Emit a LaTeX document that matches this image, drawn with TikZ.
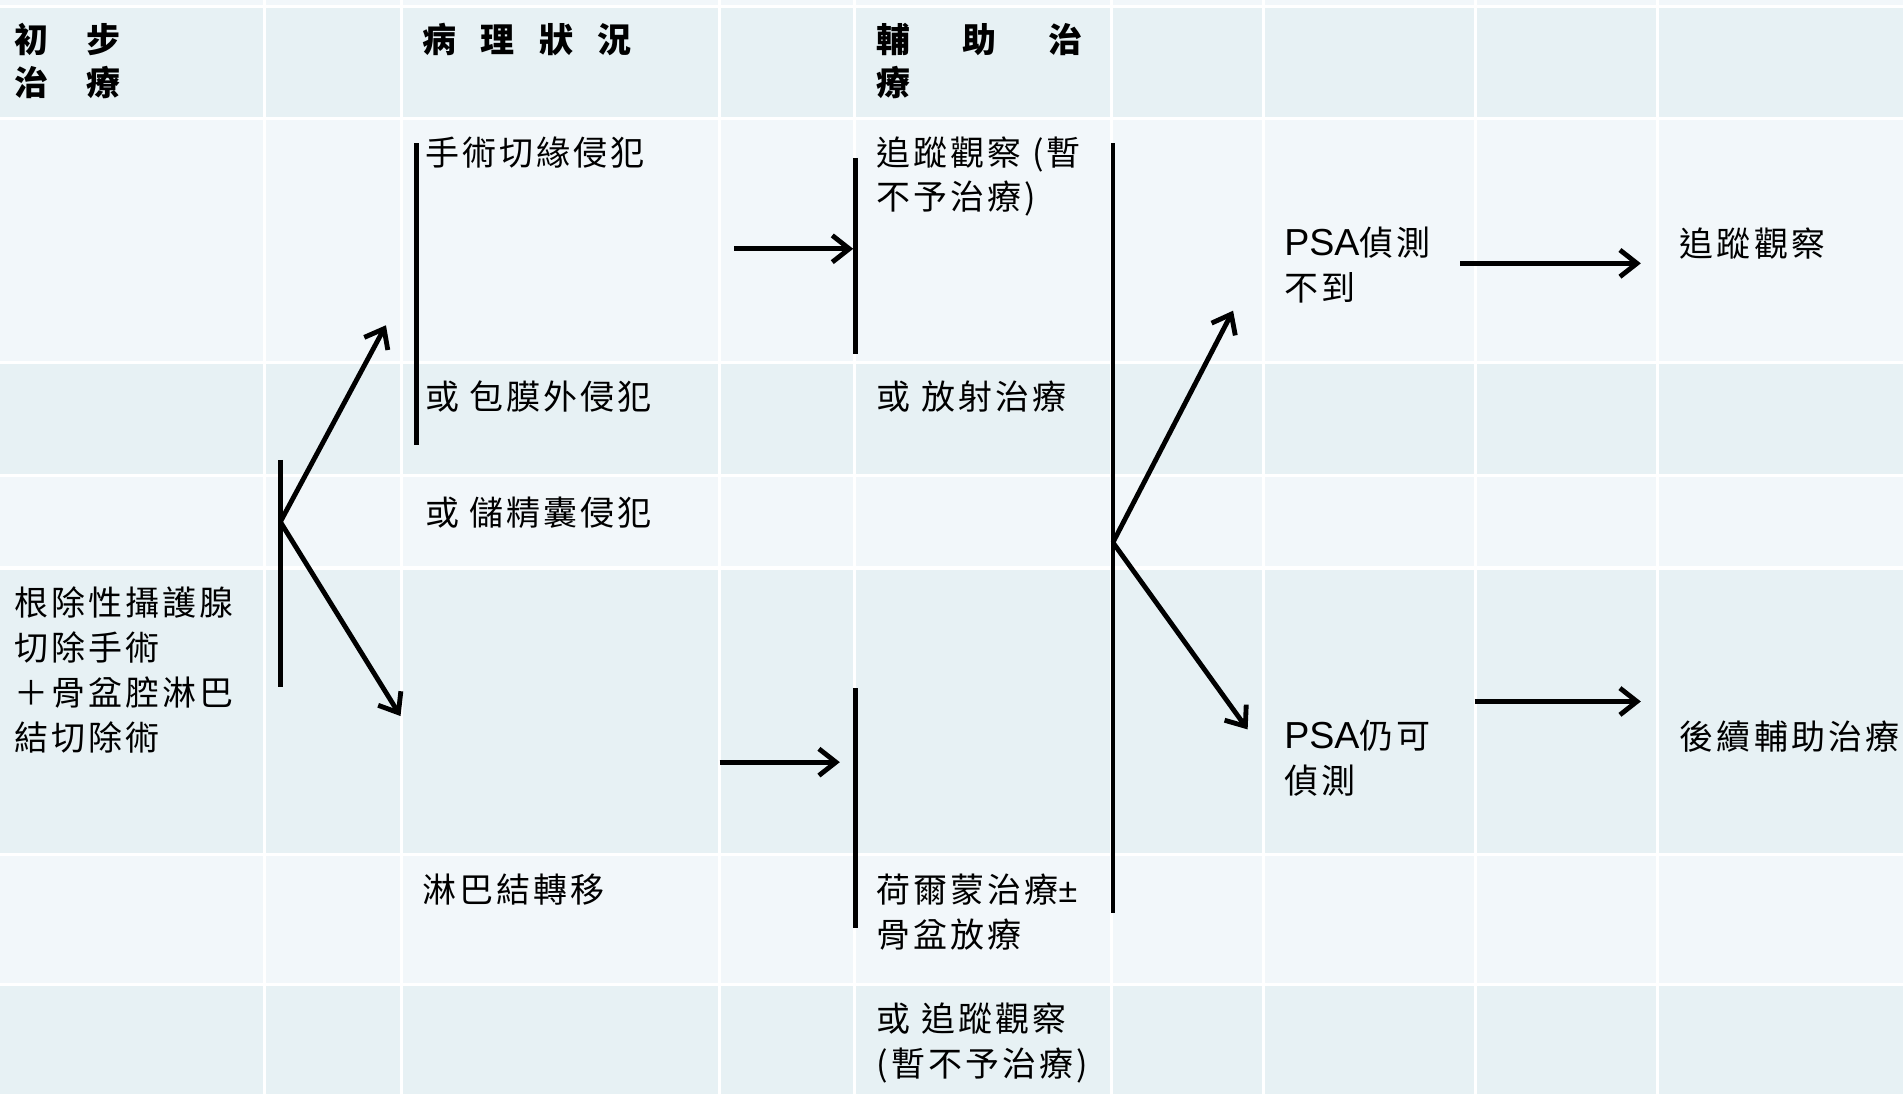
\documentclass[tikz,border=0pt]{standalone}
\usepackage{fontspec}
\setmainfont{Noto Sans CJK TC}[LetterSpace=9]
\newfontfamily\psaf{Liberation Sans}
\usetikzlibrary{arrows.meta}
\definecolor{rowD}{RGB}{231,241,244}
\definecolor{rowL}{RGB}{242,247,250}
\tikzset{
 txt/.style={anchor=base west, inner sep=0pt, align=left, font=\fontsize{28}{37}\selectfont},
 hdr/.style={anchor=base west, inner sep=0pt, align=left, font=\fontsize{28}{35}\selectfont\bfseries},
 bar/.style={line width=4pt},
 arr/.style={line width=4pt, -{Straight Barb[length=14pt,width=22pt]}},
 grid/.style={white, line width=2.5pt},
}
\begin{document}
\begin{tikzpicture}[x=1pt,y=-1pt]
\useasboundingbox (0,0) rectangle (1568,901);
% rows
\fill[white] (0,0) rectangle (1568,901);
\fill[rowL] (0,0) rectangle (1568,5.5);
\fill[rowD] (0,5.5) rectangle (1568,98);
\fill[rowL] (0,98) rectangle (1568,299);
\fill[rowD] (0,299) rectangle (1568,392);
\fill[rowL] (0,392) rectangle (1568,468);
\fill[rowD] (0,468) rectangle (1568,704);
\fill[rowL] (0,704) rectangle (1568,811);
\fill[rowD] (0,811) rectangle (1568,901);
\foreach \y in {5.5,98,299,392,468,704,811} \draw[grid] (0,\y) -- (1568,\y);
\foreach \x in {218,331,593,704,916,1041,1216,1366} \draw[grid] (\x,0) -- (\x,901);
% headers (multi-line nodes: base anchor = last line's baseline)
\node[hdr] (h1) at (12,78.6) {初\hspace{31pt}步\\治\hspace{31pt}療};
\node[hdr] (h2) at (348,43.6) {病\hspace{20pt}理\hspace{20pt}狀\hspace{20pt}況};
\node[hdr] (h3) at (722,78.6) {輔\hspace{43pt}助\hspace{43pt}治\\療};
% column 0
\node[txt] (a) at (12,618) {根除性攝護腺\\切除手術\\＋骨盆腔淋巴\\結切除術};
% column 2
\node[txt] (p1) at (350,136.6) {手術切緣侵犯};
\node[txt] (p2) at (350,337.6) {或 包膜外侵犯};
\node[txt] (p3) at (350,432.6) {或 儲精囊侵犯};
\node[txt] (p4) at (348,743.6) {淋巴結轉移};
% column 4
\node[txt] (t1) at (722,173) {追蹤觀察 (暫\\不予治療)};
\node[txt] (t2) at (722,337.6) {或 放射治療};
\node[txt] (t3) at (722,780.6) {荷爾蒙治療{\psaf ±}\\骨盆放療};
\node[txt] (t4) at (722,886.6) {或 追蹤觀察\\(暫不予治療)};
% column 6
\node[txt] (s1) at (1058,247.6) {{\psaf\fontsize{31}{37}\selectfont PSA}偵測\\不到};
\node[txt] (s2) at (1058,653.6) {{\psaf\fontsize{31}{37}\selectfont PSA}仍可\\偵測};
% column 8
\node[txt] (f1) at (1384,211.6) {追蹤觀察};
\node[txt] (f2) at (1384,617.6) {後續輔助治療};
% bars
\coordinate (b1t) at (231,379); \coordinate (b1b) at (231,566); \coordinate (v1) at (231,430);
\coordinate (b2t) at (343,118); \coordinate (b2b) at (343,367);
\coordinate (b3t) at (705,130); \coordinate (b3b) at (705,292);
\coordinate (b4t) at (705,567); \coordinate (b4b) at (705,765);
\coordinate (b5t) at (917,118); \coordinate (b5b) at (917,752); \coordinate (v5) at (917,447);
\draw[bar] (b1t) -- (b1b);
\draw[bar] (b2t) -- (b2b);
\draw[bar] (b3t) -- (b3b);
\draw[bar] (b4t) -- (b4b);
\draw[bar] (b5t) -- (b5b);
% arrows
\coordinate (e1) at (318,268); \coordinate (e2) at (330,590);
\coordinate (e3s) at (605,205); \coordinate (e3) at (703,205);
\coordinate (e4s) at (593,628); \coordinate (e4) at (692,628);
\coordinate (e5) at (1016,256); \coordinate (e6) at (1028,601);
\coordinate (e7s) at (1203,217); \coordinate (e7) at (1352,217);
\coordinate (e8s) at (1215,578); \coordinate (e8) at (1352,578);
\draw[arr] (v1) -- (e1);
\draw[arr] (v1) -- (e2);
\draw[arr] (e3s) -- (e3);
\draw[arr] (e4s) -- (e4);
\draw[arr] (v5) -- (e5);
\draw[arr] (v5) -- (e6);
\draw[arr] (e7s) -- (e7);
\draw[arr] (e8s) -- (e8);
\end{tikzpicture}
\end{document}
